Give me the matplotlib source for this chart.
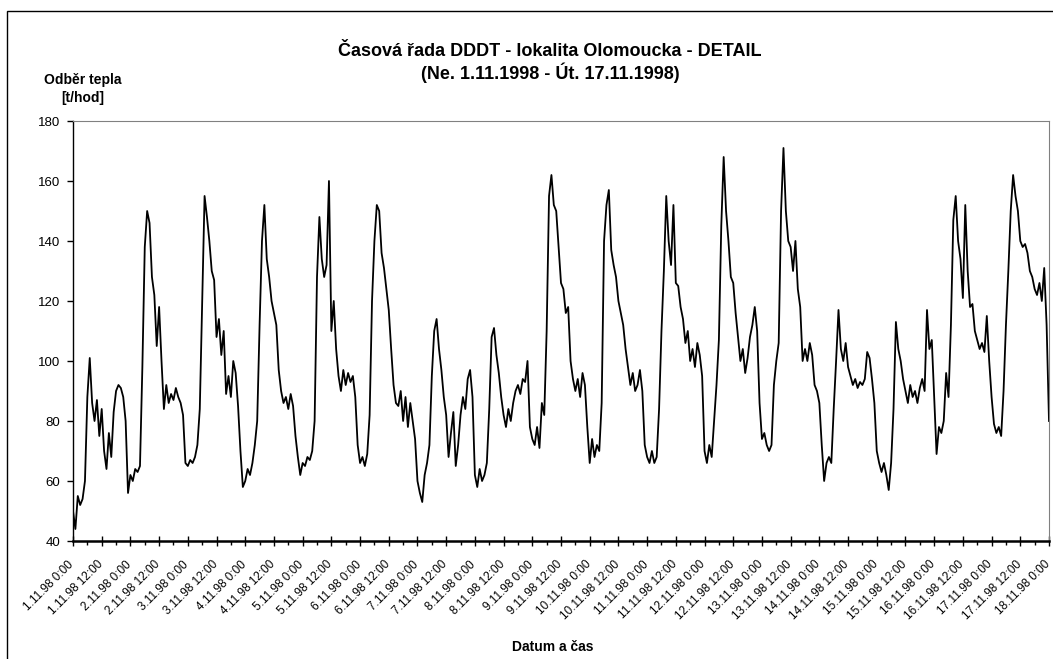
"""Casova rada DDDT - lokalita Olomoucka, detail 1.11.-17.11.1998."""

import matplotlib
matplotlib.use("Agg")
import matplotlib.pyplot as plt
import matplotlib.transforms as mtransforms
import numpy as np
from matplotlib.patches import Rectangle
from matplotlib.ticker import MultipleLocator

plt.rcParams["font.family"] = ["Liberation Sans", "DejaVu Sans"]

# hourly heat load [t/hod], one list per day
day01 = [50, 44, 55, 52, 54, 60, 88, 101, 86, 80, 87, 75, 84, 70, 64, 76, 68, 83, 90, 92, 91, 88, 80, 56]
day02 = [62, 60, 64, 63, 65, 98, 138, 150, 146, 128, 122, 105, 118, 100, 84, 92, 86, 89, 87, 91, 88, 86, 82, 66]
day03 = [65, 67, 66, 68, 72, 84, 120, 155, 148, 140, 130, 127, 108, 114, 102, 110, 89, 95, 88, 100, 96, 85, 70, 58]
day04 = [60, 64, 62, 66, 72, 80, 112, 140, 152, 134, 128, 120, 116, 112, 97, 90, 86, 88, 84, 89, 85, 75, 68, 62]
day05 = [66, 65, 68, 67, 70, 80, 128, 148, 134, 128, 132, 160, 110, 120, 104, 95, 90, 97, 92, 96, 93, 95, 88, 72]
day06 = [66, 68, 65, 69, 82, 120, 140, 152, 150, 136, 131, 124, 117, 104, 92, 86, 85, 90, 80, 88, 78, 86, 80, 74]
day07 = [60, 56, 53, 62, 66, 72, 95, 110, 114, 104, 97, 88, 82, 68, 76, 83, 65, 72, 82, 88, 84, 94, 97, 88]
day08 = [62, 58, 64, 60, 62, 66, 84, 108, 111, 102, 96, 88, 82, 78, 84, 80, 86, 90, 92, 89, 94, 93, 100, 78]
day09 = [74, 72, 78, 71, 86, 82, 110, 155, 162, 152, 150, 138, 126, 124, 116, 118, 100, 94, 90, 94, 88, 96, 92, 78]
day10 = [66, 74, 68, 72, 70, 86, 140, 152, 157, 137, 132, 128, 120, 116, 112, 104, 98, 92, 96, 90, 92, 97, 90, 72]
day11 = [68, 66, 70, 66, 68, 84, 110, 130, 155, 140, 132, 152, 126, 125, 118, 114, 106, 110, 100, 104, 98, 106, 102, 95]
day12 = [70, 66, 72, 68, 80, 92, 107, 145, 168, 150, 140, 128, 126, 116, 108, 100, 104, 96, 101, 108, 112, 118, 110, 86]
day13 = [74, 76, 72, 70, 72, 92, 100, 106, 150, 171, 150, 140, 138, 130, 140, 124, 118, 100, 104, 100, 106, 102, 92, 90]
day14 = [86, 72, 60, 66, 68, 66, 84, 100, 117, 104, 100, 106, 98, 95, 92, 94, 91, 93, 92, 94, 103, 101, 94, 86]
day15 = [70, 66, 63, 66, 62, 57, 66, 84, 113, 104, 100, 94, 90, 86, 92, 88, 90, 86, 91, 94, 90, 117, 104, 107]
day16 = [88, 69, 78, 76, 80, 96, 88, 112, 147, 155, 140, 134, 121, 152, 130, 118, 119, 110, 107, 104, 106, 103, 115, 100]
day17 = [88, 79, 76, 78, 75, 90, 112, 130, 150, 162, 155, 150, 140, 138, 139, 136, 130, 128, 124, 122, 126, 120, 131, 112]
day18 = [80]

days = [day01, day02, day03, day04, day05, day06, day07, day08, day09,
        day10, day11, day12, day13, day14, day15, day16, day17, day18]
load = np.concatenate(days)
hours = np.arange(len(load))

tick_hours = list(range(0, 409, 12))
tick_labels = [f"{d}.11.98 {h}:00" for d in range(1, 19) for h in (0, 12)][:len(tick_hours)]

W, H = 1053, 659
fig = plt.figure(figsize=(W / 100, H / 100), dpi=100)
fig.patch.set_facecolor("white")

# chart frame (cut by the image on the right and bottom)
fig.add_artist(Rectangle((7 / W, -0.05), 1.2, 1 - 11 / H + 0.05,
                         transform=fig.transFigure, fill=False,
                         edgecolor="black", linewidth=1.0))

ax = fig.add_axes([73 / W, 118 / H, 976 / W, 420 / H])
ax.plot(hours, load, color="black", linewidth=1.3)

ax.set_xlim(0, 408)
ax.set_ylim(40, 180)
ax.set_yticks(range(40, 181, 20))
ax.set_xticks(tick_hours)
ax.set_xticklabels(tick_labels, rotation=45, ha="right", va="top",
                   rotation_mode="anchor", fontsize=8.5)
ax.xaxis.set_minor_locator(MultipleLocator(6))
ax.tick_params(axis="y", labelsize=9.5, length=4, width=1, direction="out", pad=5)
ax.tick_params(axis="x", which="major", length=7, width=1, direction="inout", pad=9)
ax.tick_params(axis="x", which="minor", length=3, width=1, direction="out")

# nudge the slanted date labels a little to the left, as in the original
shift = mtransforms.ScaledTranslation(-5 / 100, 0, fig.dpi_scale_trans)
for lbl in ax.get_xticklabels():
    lbl.set_transform(lbl.get_transform() + shift)

ax.spines["left"].set_linewidth(1.0)
ax.spines["bottom"].set_linewidth(1.8)
ax.spines["top"].set_color("#808080")
ax.spines["right"].set_color("#808080")

fig.text(550 / W, 1 - 51 / H, "Časová řada DDDT - lokalita Olomoucka - DETAIL",
         ha="center", va="center", fontsize=13, fontweight="bold")
fig.text(550 / W, 1 - 73 / H, "(Ne. 1.11.1998 - Út. 17.11.1998)",
         ha="center", va="center", fontsize=13, fontweight="bold")
fig.text(83 / W, 1 - 80 / H, "Odběr tepla", ha="center", va="center",
         fontsize=10, fontweight="bold")
fig.text(83 / W, 1 - 98 / H, "[t/hod]", ha="center", va="center",
         fontsize=10, fontweight="bold")
fig.text(553 / W, 1 - 647 / H, "Datum a čas", ha="center", va="center",
         fontsize=10, fontweight="bold")

fig.savefig("out.png", dpi=100)
